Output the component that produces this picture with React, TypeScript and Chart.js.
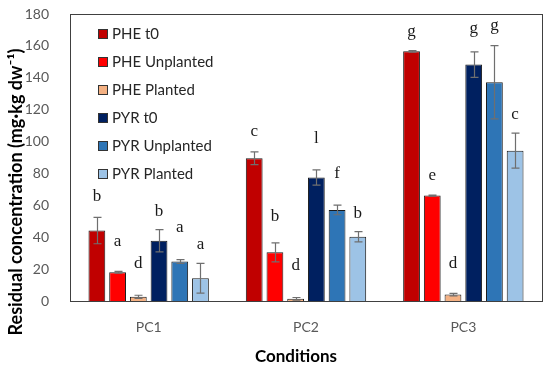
import React, { useEffect, useRef } from "react";
import { Chart, registerables } from "chart.js";

Chart.register(...registerables);

const categories = ["PC1", "PC2", "PC3"];
const seriesNames = ["PHE t0", "PHE Unplanted", "PHE Planted", "PYR t0", "PYR Unplanted", "PYR Planted"];
const seriesColors = ["#C00000", "#FF0000", "#F4B183", "#002060", "#2E75B6", "#9DC3E6"];

const pheT0 = [44.2, 89.5, 156.6];
const pheUnplanted = [18.0, 30.5, 66.1];
const phePlanted = [2.6, 1.4, 4.0];
const pyrT0 = [37.8, 77.5, 148.3];
const pyrUnplanted = [24.8, 57.1, 137.2];
const pyrPlanted = [14.3, 40.3, 94.3];

const pheT0Err = [8.3, 4.0, 0.5];
const pheUnplantedErr = [0.6, 6.0, 0.3];
const phePlantedErr = [1.0, 0.8, 0.8];
const pyrT0Err = [7.0, 4.8, 8.0];
const pyrUnplantedErr = [1.2, 3.0, 23.0];
const pyrPlantedErr = [9.3, 3.2, 11.0];

const pheT0Letters = ["b", "c", "g"];
const pheUnplantedLetters = ["a", "b", "e"];
const phePlantedLetters = ["d", "d", "d"];
const pyrT0Letters = ["b", "l", "g"];
const pyrUnplantedLetters = ["a", "f", "g"];
const pyrPlantedLetters = ["a", "b", "c"];

// letter heights (data units)
const pheT0LetterY = [65.4, 106.2, 169];
const pheUnplantedLetterY = [37.6, 52.7, 79];
const phePlantedLetterY = [23.8, 22.1, 23.6];
const pyrT0LetterY = [55.8, 102, 171];
const pyrUnplantedLetterY = [45.8, 80.1, 173];
const pyrPlantedLetterY = [35.3, 55, 116.7];

const yTicks = [0, 20, 40, 60, 80, 100, 120, 140, 160, 180];

const allValues = [pheT0, pheUnplanted, phePlanted, pyrT0, pyrUnplanted, pyrPlanted];
const allErrs = [pheT0Err, pheUnplantedErr, phePlantedErr, pyrT0Err, pyrUnplantedErr, pyrPlantedErr];
const allLetters = [pheT0Letters, pheUnplantedLetters, phePlantedLetters, pyrT0Letters, pyrUnplantedLetters, pyrPlantedLetters];
const allLetterY = [pheT0LetterY, pheUnplantedLetterY, phePlantedLetterY, pyrT0LetterY, pyrUnplantedLetterY, pyrPlantedLetterY];

const decorPlugin = {
  id: "decor",
  afterDatasetsDraw(chart: any) {
    const ctx = chart.ctx;
    const y = chart.scales.y;
    const area = chart.chartArea;
    ctx.save();
    // error bars
    ctx.strokeStyle = "#6f6f6f";
    ctx.lineWidth = 1.2;
    chart.data.datasets.forEach((ds: any, di: number) => {
      const meta = chart.getDatasetMeta(di);
      meta.data.forEach((bar: any, i: number) => {
        const v = allValues[di][i];
        const e = allErrs[di][i];
        const x = Math.round(bar.x) + 0.5;
        const yt = y.getPixelForValue(v + e);
        const yb = y.getPixelForValue(v - e);
        ctx.beginPath();
        ctx.moveTo(x, yt);
        ctx.lineTo(x, yb);
        ctx.moveTo(x - 4, yt);
        ctx.lineTo(x + 4, yt);
        ctx.moveTo(x - 4, yb);
        ctx.lineTo(x + 4, yb);
        ctx.stroke();
      });
    });
    // letters
    ctx.fillStyle = "#1a1a1a";
    ctx.font = "17px 'Liberation Serif', serif";
    ctx.textAlign = "center";
    ctx.textBaseline = "middle";
    chart.data.datasets.forEach((ds: any, di: number) => {
      const meta = chart.getDatasetMeta(di);
      meta.data.forEach((bar: any, i: number) => {
        ctx.fillText(allLetters[di][i], bar.x, y.getPixelForValue(allLetterY[di][i]));
      });
    });
    // frame
    ctx.strokeStyle = "#404040";
    ctx.lineWidth = 1;
    ctx.strokeRect(Math.round(area.left) + 0.5, Math.round(area.top) + 0.5, Math.round(area.right - area.left), Math.round(area.bottom - area.top));
    // legend
    ctx.font = "15px Lato, 'Open Sans', sans-serif";
    ctx.textAlign = "left";
    ctx.textBaseline = "middle";
    chart.data.datasets.forEach((ds: any, di: number) => {
      const bx = area.left + 28;
      const cy = area.top + 20 + 28 * di;
      ctx.fillStyle = ds.backgroundColor;
      ctx.fillRect(bx, cy - 5, 10, 10);
      ctx.strokeStyle = "#333";
      ctx.strokeRect(bx + 0.5, cy - 4.5, 9, 9);
      ctx.fillStyle = "#262626";
      ctx.fillText(ds.label, bx + 14, cy);
    });
    // axis titles
    ctx.fillStyle = "#000";
    ctx.font = "bold 17px Lato, 'Open Sans', sans-serif";
    ctx.textAlign = "center";
    ctx.fillText("Conditions", 296, 357);
    ctx.font = "bold 18px Lato, 'Open Sans', sans-serif";
    ctx.translate(16, 192);
    ctx.rotate(-Math.PI / 2);
    ctx.fillText("Residual concentration (mg\u00B7kg dw\u207B\u00B9)", 0, 0);
    ctx.restore();
  },
};

export default function App() {
  const ref = useRef<HTMLCanvasElement>(null);
  useEffect(() => {
    if (!ref.current) return;
    const chart = new Chart(ref.current, {
      type: "bar",
      data: {
        labels: categories,
        datasets: seriesNames.map((name, i) => ({
          label: name,
          data: allValues[i],
          backgroundColor: seriesColors[i],
          borderColor: "#1a1a1a",
          borderWidth: 1,
          categoryPercentage: 0.79,
          barPercentage: 0.81,
        })),
      },
      options: {
        animation: false,
        responsive: false,
        maintainAspectRatio: false,
        layout: { padding: { top: 14, right: 8, left: 0, bottom: 0 } },
        plugins: { legend: { display: false }, tooltip: { enabled: false } },
        scales: {
          x: {
            grid: { display: false },
            border: { display: false },
            ticks: { padding: 10, color: "#595959", font: { size: 14, family: "Lato, 'Open Sans', sans-serif" } },
            afterFit: (s: any) => { s.height = 67; s.paddingLeft = 0; s.paddingRight = 0; },
          },
          y: {
            min: 0,
            max: 180,
            afterBuildTicks: (s: any) => { s.ticks = yTicks.map((v) => ({ value: v })); },
            grid: { display: false },
            border: { display: false },
            ticks: { padding: 13, color: "#595959", font: { size: 14, family: "Lato, 'Open Sans', sans-serif" } },
            afterFit: (s: any) => { s.width = 70; s.paddingTop = 0; s.paddingBottom = 0; },
          },
        },
      },
      plugins: [decorPlugin],
    });
    return () => chart.destroy();
  }, []);
  return (
    <div style={{ position: "fixed", left: 0, top: 0, width: 550, height: 368, background: "#fff" }}>
      <canvas ref={ref} width={550} height={368} />
    </div>
  );
}
